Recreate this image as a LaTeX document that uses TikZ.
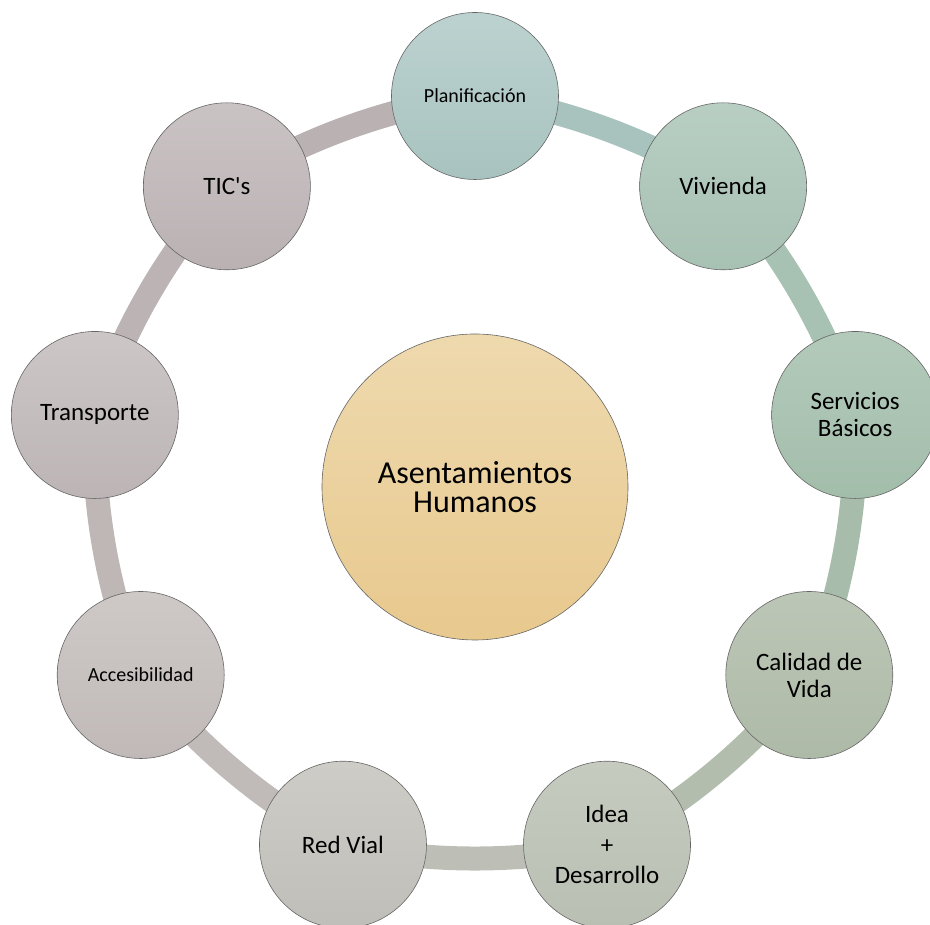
\documentclass[tikz,border=0pt]{standalone}
\usepackage{fontspec}
\setmainfont{Carlito}
\usetikzlibrary{backgrounds}

\definecolor{hubTop}{HTML}{EED9AE}
\definecolor{hubBot}{HTML}{E8C98E}
\definecolor{planTop}{HTML}{BCD2D0}
\definecolor{planBot}{HTML}{A8C3BF}
\definecolor{vivTop}{HTML}{B8CEC3}
\definecolor{vivBot}{HTML}{A7C1B3}
\definecolor{servTop}{HTML}{B3CABA}
\definecolor{servBot}{HTML}{A3BDAB}
\definecolor{calTop}{HTML}{BCC6B6}
\definecolor{calBot}{HTML}{AEBAA8}
\definecolor{ideaTop}{HTML}{C6CBC0}
\definecolor{ideaBot}{HTML}{B9BFB2}
\definecolor{redTop}{HTML}{CECCC6}
\definecolor{redBot}{HTML}{C0BEB8}
\definecolor{accTop}{HTML}{CEC9C7}
\definecolor{accBot}{HTML}{C0B9B8}
\definecolor{traTop}{HTML}{CCC6C6}
\definecolor{traBot}{HTML}{BDB5B5}
\definecolor{ticTop}{HTML}{CAC3C4}
\definecolor{ticBot}{HTML}{BAB1B3}

\begin{document}
\begin{tikzpicture}[x=1pt, y=1pt,
    ring/.style={circle, draw=black!60, line width=0.6pt, minimum size=167pt,
        inner sep=0pt, align=center, font=\fontsize{25}{27}\selectfont},
    band/.style={line width=24pt, bend left=12, looseness=0.86}]
    \useasboundingbox (0, 0) rectangle (930, 925);
    \clip (0, 0) rectangle (930, 925);
    \coordinate (mid) at (475, 443);

    \node[circle, draw=black!60, line width=0.6pt, minimum size=306pt, inner sep=0pt,
        top color=hubTop, bottom color=hubBot, align=center,
        font=\fontsize{32}{29}\selectfont] (hub) at (475, 438) {Asentamientos\\Humanos};

    \node[ring, top color=planTop, bottom color=planBot, font=\fontsize{20}{22}\selectfont]
        (plan) at ([shift={(90:386)}]mid) {Planificación};
    \node[ring, top color=vivTop, bottom color=vivBot] (viv) at ([shift={(50:386)}]mid) {Vivienda};
    \node[ring, top color=servTop, bottom color=servBot] (serv) at ([shift={(10:386)}]mid) {Servicios\\Básicos};
    \node[ring, top color=calTop, bottom color=calBot] (cal) at ([shift={(-30:386)}]mid) {Calidad de\\Vida};
    \node[ring, top color=ideaTop, bottom color=ideaBot, font=\fontsize{25}{30.5}\selectfont]
        (idea) at ([shift={(-70:386)}]mid) {Idea\\+\\Desarrollo};
    \node[ring, top color=redTop, bottom color=redBot] (red) at ([shift={(-110:386)}]mid) {Red Vial};
    \node[ring, top color=accTop, bottom color=accBot, font=\fontsize{20}{22}\selectfont]
        (acc) at ([shift={(-150:386)}]mid) {Accesibilidad};
    \node[ring, top color=traTop, bottom color=traBot] (tra) at ([shift={(170:386)}]mid) {Transporte};
    \node[ring, top color=ticTop, bottom color=ticBot] (tic) at ([shift={(130:386)}]mid) {TIC\textquotesingle s};

    % ring behind the circles
    \begin{scope}[on background layer]
        \draw[band, color=planBot!90!vivBot] (plan.center) to (viv.center);
        \draw[band, color=vivBot] (viv.center) to (serv.center);
        \draw[band, color=servBot!60!calBot] (serv.center) to (cal.center);
        \draw[band, color=calBot!50!ideaBot] (cal.center) to (idea.center);
        \draw[band, color=ideaBot!50!redBot] (idea.center) to (red.center);
        \draw[band, color=redBot!50!accBot] (red.center) to (acc.center);
        \draw[band, color=accBot!50!traBot] (acc.center) to (tra.center);
        \draw[band, color=traBot!50!ticBot] (tra.center) to (tic.center);
        \draw[band, color=ticBot] (tic.center) to (plan.center);
    \end{scope}
\end{tikzpicture}
\end{document}
